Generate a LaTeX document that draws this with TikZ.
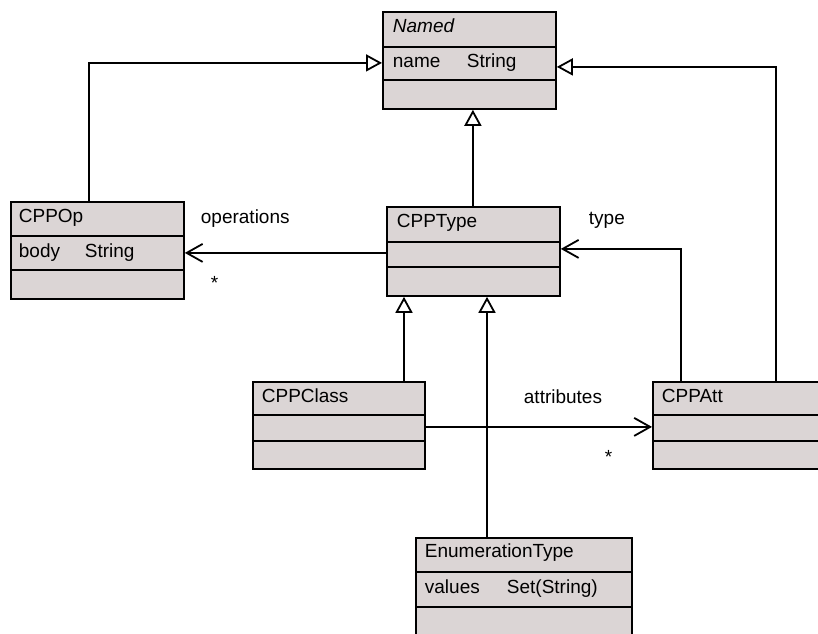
\documentclass[tikz,border=0pt]{standalone}
\usepackage{fontspec}
\setmainfont{Liberation Sans}
\usepackage{xcolor}
\usetikzlibrary{arrows.meta, positioning}
\definecolor{boxfill}{RGB}{219,213,213}

\begin{document}
\begin{tikzpicture}[x=1pt, y=-1pt, line width=1.8pt,
    every node/.style={font=\fontsize{19}{23}\selectfont},
    umlbox/.style={draw, fill=boxfill, anchor=north west, inner sep=0pt},
    txt/.style={anchor=base west, inner sep=0pt},
    gen/.style={-{Triangle[open, length=16pt, width=17pt, fill=white]}},
    assoc/.style={-{Straight Barb[length=16pt, width=18pt]}}]
    \useasboundingbox (0,0) rectangle (818,633);
    \fill[white] (0,0) rectangle (818,633);
    \clip (0,0) rectangle (818,633);

    % classes
    \node[umlbox, minimum width=173pt, minimum height=97pt] (named) at (382,11) {};
    \node[umlbox, minimum width=173pt, minimum height=97pt] (op) at (10,201) {};
    \node[umlbox, minimum width=173pt, minimum height=89pt] (type) at (386,206) {};
    \node[umlbox, minimum width=172pt, minimum height=87pt] (class) at (252,381) {};
    \node[umlbox, minimum width=180pt, minimum height=87pt] (att) at (652,381) {};
    \node[umlbox, minimum width=216pt, minimum height=110pt] (enum) at (415,537) {};

    % compartments
    \foreach \n/\a/\b in {named/36/69, op/35/69, type/36/61, class/34/60, att/34/60, enum/35/70} {
        \draw ([shift={(0,\a)}]\n.north west) -- ([shift={(0,\a)}]\n.north east);
        \draw ([shift={(0,\b)}]\n.north west) -- ([shift={(0,\b)}]\n.north east);
    }

    % names and attributes
    \node[txt] (namedT) at ([shift={(10,21)}]named.north west) {\itshape Named};
    \node[txt] (namedA) at (392,67) {name};
    \node[txt] (namedB) at (466,67) {String};
    \node[txt] (opT) at ([shift={(8,21)}]op.north west) {CPPOp};
    \node[txt] (opA) at (18,257) {body};
    \node[txt] (opB) at (84,257) {String};
    \node[txt] (typeT) at ([shift={(10,21)}]type.north west) {CPPType};
    \node[txt] (classT) at ([shift={(9,21)}]class.north west) {CPPClass};
    \node[txt] (attT) at ([shift={(9,21)}]att.north west) {CPPAtt};
    \node[txt] (enumT) at ([shift={(9,20)}]enum.north west) {EnumerationType};
    \node[txt] (enumA) at (424,593) {values};
    \node[txt] (enumB) at (506,593) {Set(String)};

    % generalizations
    \draw[gen] ([xshift=-8.5pt]op.north) |- ([yshift=-2.5pt]named.west);
    \coordinate (attUp) at ([xshift=124pt]att.north west);
    \draw[gen] (attUp) |- ([yshift=-6.5pt]named.east);
    \coordinate (typeUp) at ([xshift=-0.5pt]type.north);
    \draw[gen] (typeUp) -- (typeUp |- named.south);
    \coordinate (classUp) at ([xshift=152pt]class.north west);
    \draw[gen] (classUp) -- (classUp |- type.south);
    \coordinate (enumUp) at ([xshift=72pt]enum.north west);
    \draw[gen] (enumUp) -- (enumUp |- type.south);

    % associations
    \coordinate (opsStart) at ([yshift=-1.5pt]type.west);
    \draw[assoc] (opsStart) -- (opsStart -| op.east);
    \coordinate (typeStart) at ([xshift=29pt]att.north west);
    \draw[assoc] (typeStart) |- ([yshift=2.5pt]type.east);
    \coordinate (attrStart) at ([yshift=-1.5pt]class.east);
    \draw[assoc] (attrStart) -- (attrStart -| att.west);

    % role names
    \node[txt] (opsL) at (200,223) {operations};
    \node[txt] (opsM) at (210,289) {*};
    \node[txt] (typeL) at (588,224) {type};
    \node[txt] (attrL) at (523,403) {attributes};
    \node[txt] (attrM) at (604,463) {*};
\end{tikzpicture}
\end{document}
